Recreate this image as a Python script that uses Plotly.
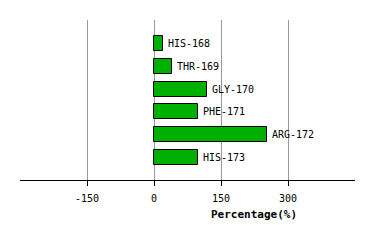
import plotly.graph_objects as go

residues = ["HIS-168", "THR-169", "GLY-170", "PHE-171", "ARG-172", "HIS-173"]
percentages = [20, 40, 119, 99, 252, 99]
tick_values = [-150, 0, 150, 300]
tick_labels = ["-150", "0", "150", "300"]
x_title = "Percentage(%)"

positions = list(range(len(residues)))
font_mono = "DejaVu Sans Mono"

fig = go.Figure()
fig.add_trace(go.Bar(
    x=percentages,
    y=positions,
    orientation="h",
    width=0.66,
    marker=dict(color="#00b000", line=dict(color="black", width=1)),
    hoverinfo="skip",
))

for p, v, name in zip(positions, percentages, residues):
    fig.add_annotation(
        x=v, y=p, text=name, showarrow=False,
        xanchor="left", yanchor="middle", xshift=3,
        font=dict(family=font_mono, size=10, color="black"),
    )

fig.add_annotation(
    x=0.699, y=-0.2125, xref="paper", yref="paper",
    text="<b>" + x_title + "</b>", showarrow=False,
    xanchor="center", yanchor="middle",
    font=dict(family=font_mono, size=11, color="black"),
)

fig.update_layout(
    width=374, height=240,
    margin=dict(l=20, r=19, t=20, b=60),
    paper_bgcolor="white", plot_bgcolor="white",
    showlegend=False,
    bargap=0,
)
fig.update_xaxes(
    range=[-300, 450],
    tickvals=tick_values, ticktext=tick_labels,
    showgrid=True, gridcolor="#999999", gridwidth=1,
    zeroline=False,
    showline=True, linecolor="black", linewidth=1,
    ticks="outside", ticklen=5, tickcolor="black", tickwidth=1,
    ticklabelstandoff=4,
    tickfont=dict(family=font_mono, size=10, color="black"),
    fixedrange=True,
)
fig.update_yaxes(
    range=[6.01, -1.05],
    showticklabels=False, showgrid=False, zeroline=False,
    showline=False, ticks="",
    fixedrange=True,
)

fig.write_html("out.html", config={"displayModeBar": False})
